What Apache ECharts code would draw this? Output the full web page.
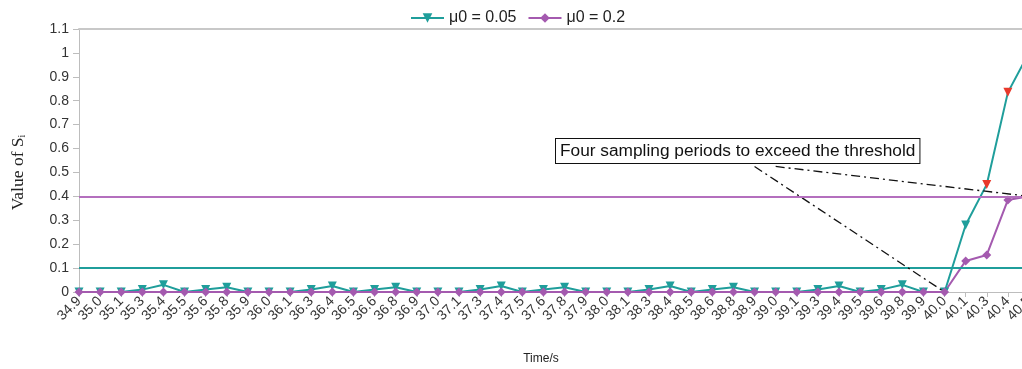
<!DOCTYPE html>
<html>
<head>
<meta charset="utf-8">
<script src="https://cdn.jsdelivr.net/npm/echarts@6/dist/echarts.min.js"></script>
<style>
html,body{margin:0;padding:0;background:#fff;overflow:hidden;}
#c{width:1022px;height:369px;}
</style>
</head>
<body>
<div id="c"></div>
<script>
const categories = ['34.9','35.0','35.1','35.3','35.4','35.5','35.6','35.8','35.9','36.0','36.1','36.3','36.4','36.5','36.6','36.8','36.9','37.0','37.1','37.3','37.4','37.5','37.6','37.8','37.9','38.0','38.1','38.3','38.4','38.5','38.6','38.8','38.9','39.0','39.1','39.3','39.4','39.5','39.6','39.8','39.9','40.0','40.1','40.3','40.4','40.5'];
const seriesMu005 = [0,0,0,0.01,0.03,0,0.01,0.02,0,0,0,0.01,0.025,0,0.01,0.02,0,0,0,0.01,0.025,0,0.01,0.02,0,0,0,0.01,0.025,0,0.01,0.02,0,0,0,0.01,0.025,0,0.01,0.03,0,0,0.28,0.45,0.835,1.0];
const seriesMu02 = [0,0,0,0,0,0,0,0,0,0,0,0,0,0,0,0,0,0,0,0,0,0,0,0,0,0,0,0,0,0,0,0,0,0,0,0,0,0,0,0,0,0,0.13,0.155,0.385,0.40];
const highlightIdx = [43,44];
const thresholdMu005 = 0.1;
const thresholdMu02 = 0.4;
const seriesNames = ['\u03bc0 = 0.05','\u03bc0 = 0.2'];
const annotationText = 'Four sampling periods to exceed the threshold';

const TEAL = '#1f9e9b';
const PURPLE = '#a45aaf';
const RED = '#e8392b';
const FONT = 'Liberation Sans, Arial, sans-serif';

const chart = echarts.init(document.getElementById('c'));
const tealData = seriesMu005.map((v,i)=> highlightIdx.includes(i) ? {value:v, itemStyle:{color:RED}} : v);

chart.setOption({
  animation:false,
  backgroundColor:'#fff',
  textStyle:{fontFamily:FONT},
  legend:{
    top:5, left:405,
    itemWidth:33, itemHeight:12, itemGap:11,
    textStyle:{fontSize:16, color:'#222', fontFamily:FONT},
    data:seriesNames
  },
  grid:{left:79, right:-7, top:29, bottom:77, containLabel:false, outerBoundsMode:'none'},
  xAxis:[{
    type:'category', data:categories, boundaryGap:false,
    name:'Time/s', nameLocation:'middle', nameGap:61,
    nameTextStyle:{fontSize:12, color:'#222', padding:[0,26,0,0], fontFamily:'Liberation Sans Narrow, Liberation Sans, sans-serif'},
    axisLine:{lineStyle:{color:'#bdbdbd', width:1}},
    axisTick:{alignWithLabel:true, length:5, lineStyle:{color:'#bdbdbd'}},
    axisLabel:{rotate:45, fontSize:14, color:'#333', margin:7, interval:0}
  },{
    type:'category', position:'top', data:categories, boundaryGap:false,
    axisLine:{show:true, lineStyle:{color:'#c8c8c8', width:2}},
    axisTick:{show:false}, axisLabel:{show:false}
  }],
  yAxis:{
    type:'value', min:0, max:1.1, interval:0.1,
    name:'Value of S{sub|i}', nameLocation:'middle', nameGap:52, nameRotate:90,
    nameTextStyle:{fontSize:17.5, color:'#222', padding:[0,24,0,0], fontFamily:'Liberation Serif, DejaVu Serif, serif',
      rich:{sub:{fontSize:10, verticalAlign:'bottom', padding:[8,0,0,0], fontFamily:'Liberation Serif, serif', color:'#222'}}},
    axisLine:{show:true, lineStyle:{color:'#bdbdbd'}},
    axisTick:{show:true, length:6, lineStyle:{color:'#bdbdbd'}},
    splitLine:{show:false},
    axisLabel:{fontSize:14, color:'#333', margin:10, formatter:v=>String(Math.round(v*10)/10)}
  },
  series:[{
    name:seriesNames[0], type:'line', data:tealData,
    symbol:'triangle', symbolRotate:180, symbolSize:9,
    lineStyle:{color:TEAL, width:2}, itemStyle:{color:TEAL},
    markLine:{
      silent:true, symbol:['none','none'], label:{show:false},
      lineStyle:{color:TEAL, width:2, type:'solid'},
      data:[
        {yAxis:thresholdMu005},
        [{coord:['38.9',0.525], lineStyle:{color:'#111', width:1.3, type:[9,4,2,4]}}, {coord:['40.0',0]}],
        [{coord:['39.0',0.525], lineStyle:{color:'#111', width:1.3, type:[9,4,2,4]}}, {coord:['40.5',0.4]}]
      ]
    }
  },{
    name:seriesNames[1], type:'line', data:seriesMu02,
    symbol:'diamond', symbolSize:9,
    lineStyle:{color:PURPLE, width:2}, itemStyle:{color:PURPLE},
    markLine:{
      silent:true, symbol:['none','none'], label:{show:false},
      lineStyle:{color:'#b46fbe', width:2, type:'solid'},
      data:[{yAxis:thresholdMu02}]
    }
  }],
  graphic:[{
    type:'text', left:555, top:138, z:100,
    style:{
      text:annotationText, font:'17.3px Liberation Sans, Arial, sans-serif', fill:'#111',
      backgroundColor:'#fff', borderColor:'#111', borderWidth:1, padding:[4,4,3,4]
    }
  }]
});
</script>
</body>
</html>
